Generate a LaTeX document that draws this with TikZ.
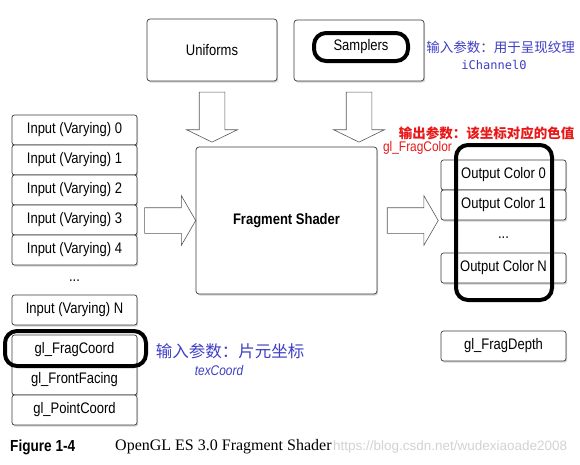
\documentclass[tikz,border=0pt]{standalone}
\usepackage{fontspec}
\setmainfont{Liberation Serif}
\newfontfamily\labelfont[FakeStretch=0.85]{Liberation Sans}
\newfontfamily\plainsans{Liberation Sans}
\newfontfamily\cjkfont{Noto Sans CJK SC}
\newfontfamily\codefont{DejaVu Sans Mono}
\usetikzlibrary{shapes.arrows,shadows,calc}

\definecolor{noteblue}{RGB}{62,62,196}
\definecolor{notered}{RGB}{232,24,24}
\definecolor{edgegray}{RGB}{60,60,60}

\tikzset{
  databox/.style={draw=edgegray, line width=0.7pt, fill=white, rounded corners=2.5pt,
    drop shadow={shadow xshift=1.2pt, shadow yshift=-1.6pt, opacity=0.35},
    minimum width=125pt, minimum height=30pt, inner sep=0pt,
    font=\labelfont\fontsize{15.3}{17}\selectfont},
  bigbox/.style={databox, rounded corners=3pt},
  hilite/.style={draw=black, line width=4pt, rounded corners=12pt, inner sep=0pt},
  fatarrow/.style={single arrow, draw=gray!70!black, line width=0.6pt, fill=white,
    inner xsep=0pt, inner ysep=12.5pt, single arrow head extend=12.5pt},
  dots/.style={font=\labelfont\fontsize{15.3}{17}\selectfont, inner sep=0pt},
}

\begin{document}
\begin{tikzpicture}[x=1pt, y=-1pt]
\useasboundingbox (0,0) rectangle (580,464);

% draw the top blocks
\node[bigbox, minimum width=130pt, minimum height=62pt] (uniforms) at (212,50) {Uniforms};
\node[bigbox, minimum width=130pt, minimum height=61pt] (samplers) at (359,50.5) {};
\node[hilite, minimum width=94pt, minimum height=28pt,
  font=\labelfont\fontsize{15.3}{17}\selectfont] (samplerlabel) at (361,47) {Samplers};

% draw the shader
\node[bigbox, minimum width=181pt, minimum height=147pt,
  font=\labelfont\bfseries\fontsize{15.3}{17}\selectfont] (shader) at (286.5,220.5) {Fragment Shader};

% draw the input column
\foreach \n/\y in {0/130,1/160,2/190,3/220,4/250}
  \node[databox] (in\n) at (74.5,\y) {Input (Varying) \n};
\node[dots] (indots) at (74.5,281) {...};
\node[databox] (inN) at (74.5,310) {Input (Varying) N};
\node[databox] (fragcoord) at (74.5,350) {gl\_FragCoord};
\node[databox] (frontfacing) at (74.5,380) {gl\_FrontFacing};
\node[databox] (pointcoord) at (74.5,410) {gl\_PointCoord};

% draw the output column
\node[databox] (out0) at (503.5,175) {Output Color 0};
\node[databox] (out1) at (503.5,205) {Output Color 1};
\node[dots] (outdots) at (503.5,238) {...};
\node[databox] (outN) at (503.5,268) {Output Color N};
\node[databox] (fragdepth) at (503.5,346) {gl\_FragDepth};

% draw the block arrows
\node[fatarrow, rotate=-90, minimum height=50pt, single arrow tip angle=128] (uniarrow)
  at ($(uniforms.south)!0.5!(uniforms.south |- shader.north)$) {};
\node[fatarrow, rotate=-90, minimum height=50pt, single arrow tip angle=128] (samparrow)
  at ($(samplers.south)!0.5!(samplers.south |- shader.north)$) {};
\node[fatarrow, minimum height=51pt, single arrow head extend=12pt, single arrow tip angle=120] (inarrow)
  at ($(in3.east |- shader.west)!0.5!(shader.west)$) {};
\node[fatarrow, minimum height=51pt, single arrow head extend=12pt, single arrow tip angle=120] (outarrow)
  at ($(shader.east)!0.5!(shader.east -| out0.west)$) {};

% draw the highlight marks
\node[hilite, minimum width=96pt, minimum height=155pt] (outmark) at (504,222.5) {};
\node[hilite, minimum width=141pt, minimum height=35pt] (coordmark) at (75.5,348.5) {};

% draw the notes
\node[text=noteblue, font=\cjkfont\fontsize{13.5}{15}\selectfont, inner sep=0pt]
  (samplernote) at (500.5,47) {输入参数：用于呈现纹理};
\node[text=noteblue, font=\codefont\fontsize{12}{14}\selectfont, inner sep=0pt]
  (samplercode) at (494,65) {iChannel0};
\node[text=notered, font=\cjkfont\bfseries\fontsize{13.5}{15}\selectfont, inner sep=0pt]
  (outnote) at (486.5,133) {输出参数：该坐标对应的色值};
\node[text=notered, font=\labelfont\fontsize{14}{15}\selectfont, inner sep=0pt]
  (outcode) at (417.5,148) {gl\_FragColor};
\node[text=noteblue, font=\cjkfont\fontsize{16.5}{18}\selectfont, inner sep=0pt]
  (coordnote) at (230,351) {输入参数：片元坐标};
\node[text=noteblue, font=\labelfont\itshape\fontsize{14}{15}\selectfont, inner sep=0pt]
  (coordcode) at (219,370) {texCoord};

% draw the caption
\node[anchor=west, font=\labelfont\bfseries\fontsize{16}{18}\selectfont, inner sep=0pt]
  (figno) at (10,447) {Figure 1-4};
\node[anchor=west, font=\fontsize{16}{18}\selectfont, inner sep=0pt]
  (figtitle) at (115,447) {OpenGL ES 3.0 Fragment Shader};
\node[anchor=west, text=gray!35, font=\plainsans\fontsize{13.5}{15}\selectfont, inner sep=0pt]
  (watermark) at ([xshift=1pt]figtitle.east) {https://blog.csdn.net/wudexiaoade2008};
\end{tikzpicture}
\end{document}
